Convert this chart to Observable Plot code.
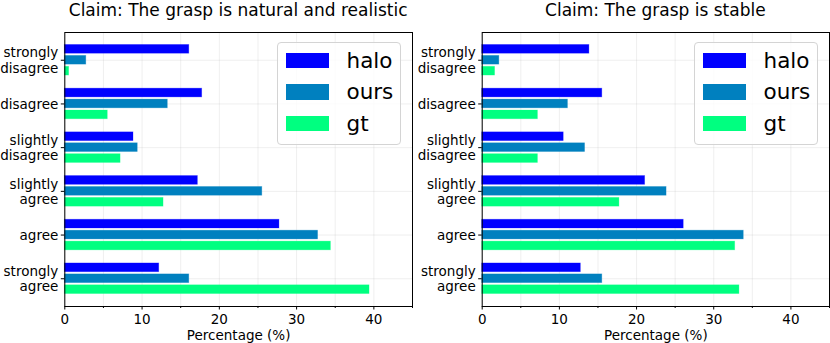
<!DOCTYPE html>
<html>
<head>
<meta charset="utf-8">
<script src="https://cdn.jsdelivr.net/npm/d3@7"></script>
<script src="https://cdn.jsdelivr.net/npm/@observablehq/plot@0.6"></script>
<style>
  body { margin: 0; background: #fff; font-family: "DejaVu Sans", sans-serif; }
  #wrap { display: flex; width: 830px; height: 343px; }
  .panel { position: relative; width: 415px; height: 343px; }
  .title { height: 30px; font-size: 17px; line-height: 20px; text-align: center; color: #000; white-space: nowrap; }
  .legend { position: absolute; top: 42px; width: 122px; height: 99px; border: 1px solid #d4d4d4; border-radius: 4px;
            background: rgba(255,255,255,0.8); padding-top: 1.5px; box-sizing: content-box; }
  .legend .row { display: flex; align-items: center; height: 31.6px; padding-left: 8px; }
  .legend .sw { width: 43px; height: 15.5px; margin-right: 17.5px; }
  .legend .lab { font-size: 21.5px; color: #000; }
  svg { display: block; }
</style>
</head>
<body>
<div id="wrap"></div>
<script>
// ---- data ----
const categories = ["strongly\ndisagree", "disagree", "slightly\ndisagree", "slightly\nagree", "agree", "strongly\nagree"];
const seriesNames = ["halo", "ours", "gt"];
const seriesColors = ["#0000ff", "#0080bf", "#00ff80"];
const titles = ["Claim: The grasp is natural and realistic", "Claim: The grasp is stable"];

const naturalHalo = [16.11, 17.78, 8.89, 17.22, 27.78, 12.22];
const naturalOurs = [2.78, 13.33, 9.44, 25.56, 32.78, 16.11];
const naturalGt   = [0.56, 5.56, 7.22, 12.78, 34.44, 39.44];

const stableHalo = [13.89, 15.56, 10.56, 21.11, 26.11, 12.78];
const stableOurs = [2.22, 11.11, 13.33, 23.89, 33.89, 15.56];
const stableGt   = [1.67, 7.22, 7.22, 17.78, 32.78, 33.33];

const xMajorTicks = [0, 10, 20, 30, 40];
const xMinorTicks = [5, 15, 25, 35, 45];
const xLabel = "Percentage (%)";

// ---- layout config ----
const groupOffsets = [-0.25, 0, 0.25];
const barHalf = 0.1;
const panels = [
  {title: titles[0], values: [naturalHalo, naturalOurs, naturalGt], marginLeft: 64.3, marginRight: 3, legendLeft: 277},
  {title: titles[1], values: [stableHalo, stableOurs, stableGt], marginLeft: 66.7, marginRight: 1, legendLeft: 279}
];

const wrap = document.getElementById("wrap");

for (const p of panels) {
  const rows = [];
  p.values.forEach((vals, s) => {
    vals.forEach((v, i) => {
      rows.push({series: seriesNames[s], value: v, y1: i + groupOffsets[s] - barHalf, y2: i + groupOffsets[s] + barHalf});
    });
  });

  const panel = document.createElement("div");
  panel.className = "panel";
  const t = document.createElement("div");
  t.className = "title";
  t.style.paddingLeft = p.marginLeft + "px";
  t.style.paddingRight = p.marginRight + "px";
  t.textContent = p.title;
  panel.appendChild(t);

  const chart = Plot.plot({
    width: 415,
    height: 313,
    marginTop: 2,
    marginBottom: 37,
    marginLeft: p.marginLeft,
    marginRight: p.marginRight,
    style: {fontFamily: "DejaVu Sans", fontSize: "13.5px", color: "#000", background: "transparent"},
    x: {domain: [0, 45]},
    y: {domain: [-0.635, categories.length - 1 + 0.635], reverse: true},
    color: {domain: seriesNames, range: seriesColors},
    marks: [
      Plot.gridX({ticks: d3.range(0, 46, 5), stroke: "#b0b0b0", strokeOpacity: 0.25, strokeWidth: 0.8}),
      Plot.gridY({ticks: d3.range(categories.length), stroke: "#b0b0b0", strokeOpacity: 0.25, strokeWidth: 0.8}),
      Plot.rectX(rows, {x: "value", y1: "y1", y2: "y2", fill: "series", stroke: "series", strokeOpacity: 0.35, strokeWidth: 0.8}),
      Plot.frame({stroke: "#000", strokeWidth: 1}),
      Plot.axisX({ticks: xMajorTicks, tickSize: 3.5, tickPadding: 4, label: xLabel, labelArrow: false, labelAnchor: "center", labelOffset: 33, stroke: "#000"}),
      Plot.axisX({ticks: xMinorTicks, tickSize: 2, tickFormat: () => "", label: null, stroke: "#000"}),
      Plot.axisY({ticks: d3.range(categories.length), tickFormat: i => categories[i], tickSize: 3.5, tickPadding: 3, label: null, lineHeight: 1.15, stroke: "#000"})
    ]
  });
  panel.appendChild(chart);

  const leg = document.createElement("div");
  leg.className = "legend";
  leg.style.left = p.legendLeft + "px";
  seriesNames.forEach((name, s) => {
    const r = document.createElement("div");
    r.className = "row";
    const sw = document.createElement("div");
    sw.className = "sw";
    sw.style.background = seriesColors[s];
    const lab = document.createElement("div");
    lab.className = "lab";
    lab.textContent = name;
    r.appendChild(sw);
    r.appendChild(lab);
    leg.appendChild(r);
  });
  panel.appendChild(leg);
  wrap.appendChild(panel);
}
</script>
</body>
</html>
